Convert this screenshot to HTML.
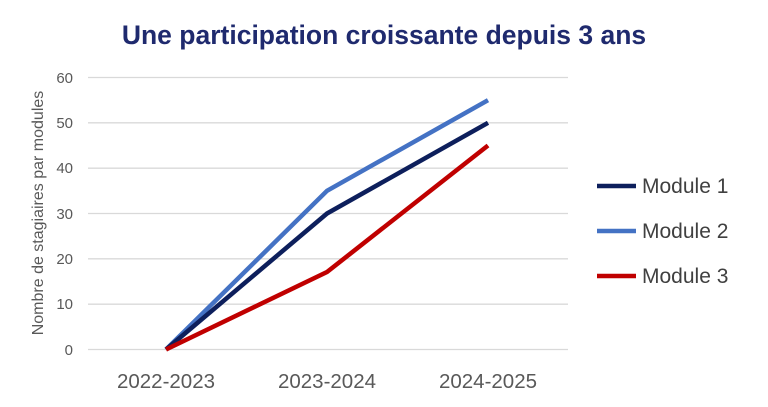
<!DOCTYPE html>
<html><head><meta charset="utf-8"><style>
html,body{margin:0;padding:0;background:#fff;width:768px;height:407px;overflow:hidden}
</style></head><body>
<svg width="768" height="407" viewBox="0 0 768 407" xmlns="http://www.w3.org/2000/svg" font-family="Liberation Sans, sans-serif">
<rect width="768" height="407" fill="#fff"/>
<text x="384" y="44" text-anchor="middle" font-size="26.5" font-weight="bold" fill="#1f2a6e">Une participation croissante depuis 3 ans</text>
<g stroke="#d9d9d9" stroke-width="1.3">
<line x1="88" x2="568" y1="77.5" y2="77.5"/>
<line x1="88" x2="568" y1="122.8" y2="122.8"/>
<line x1="88" x2="568" y1="168.2" y2="168.2"/>
<line x1="88" x2="568" y1="213.5" y2="213.5"/>
<line x1="88" x2="568" y1="258.8" y2="258.8"/>
<line x1="88" x2="568" y1="304.2" y2="304.2"/>
<line x1="88" x2="568" y1="349.5" y2="349.5"/>
</g>
<g font-size="15" fill="#595959" text-anchor="end">
<text x="73" y="83">60</text><text x="73" y="128">50</text><text x="73" y="173">40</text>
<text x="73" y="219">30</text><text x="73" y="264">20</text><text x="73" y="309">10</text><text x="73" y="355">0</text>
</g>
<text transform="translate(43,213) rotate(-90)" text-anchor="middle" font-size="16" fill="#595959">Nombre de stagiaires par modules</text>
<g font-size="20.5" fill="#595959" text-anchor="middle">
<text x="166" y="388">2022-2023</text><text x="327" y="388">2023-2024</text><text x="488" y="388">2024-2025</text>
</g>
<g fill="none" stroke-width="4.5" stroke-linejoin="round">
<polyline points="166,349.5 327,190.8 488,100.2" stroke="#4472c4"/>
<polyline points="166,349.5 327,213.5 488,122.8" stroke="#0d1f5c"/>
<polyline points="166,349.5 327,272 488,145.5" stroke="#c00000"/>
</g>
<g stroke-width="4.5">
<line x1="597" x2="636" y1="186" y2="186" stroke="#0d1f5c"/>
<line x1="597" x2="636" y1="231" y2="231" stroke="#4472c4"/>
<line x1="597" x2="636" y1="276" y2="276" stroke="#c00000"/>
</g>
<g font-size="21" fill="#404040">
<text x="642" y="193">Module 1</text><text x="642" y="238">Module 2</text><text x="642" y="283">Module 3</text>
</g>
</svg>
</body></html>
